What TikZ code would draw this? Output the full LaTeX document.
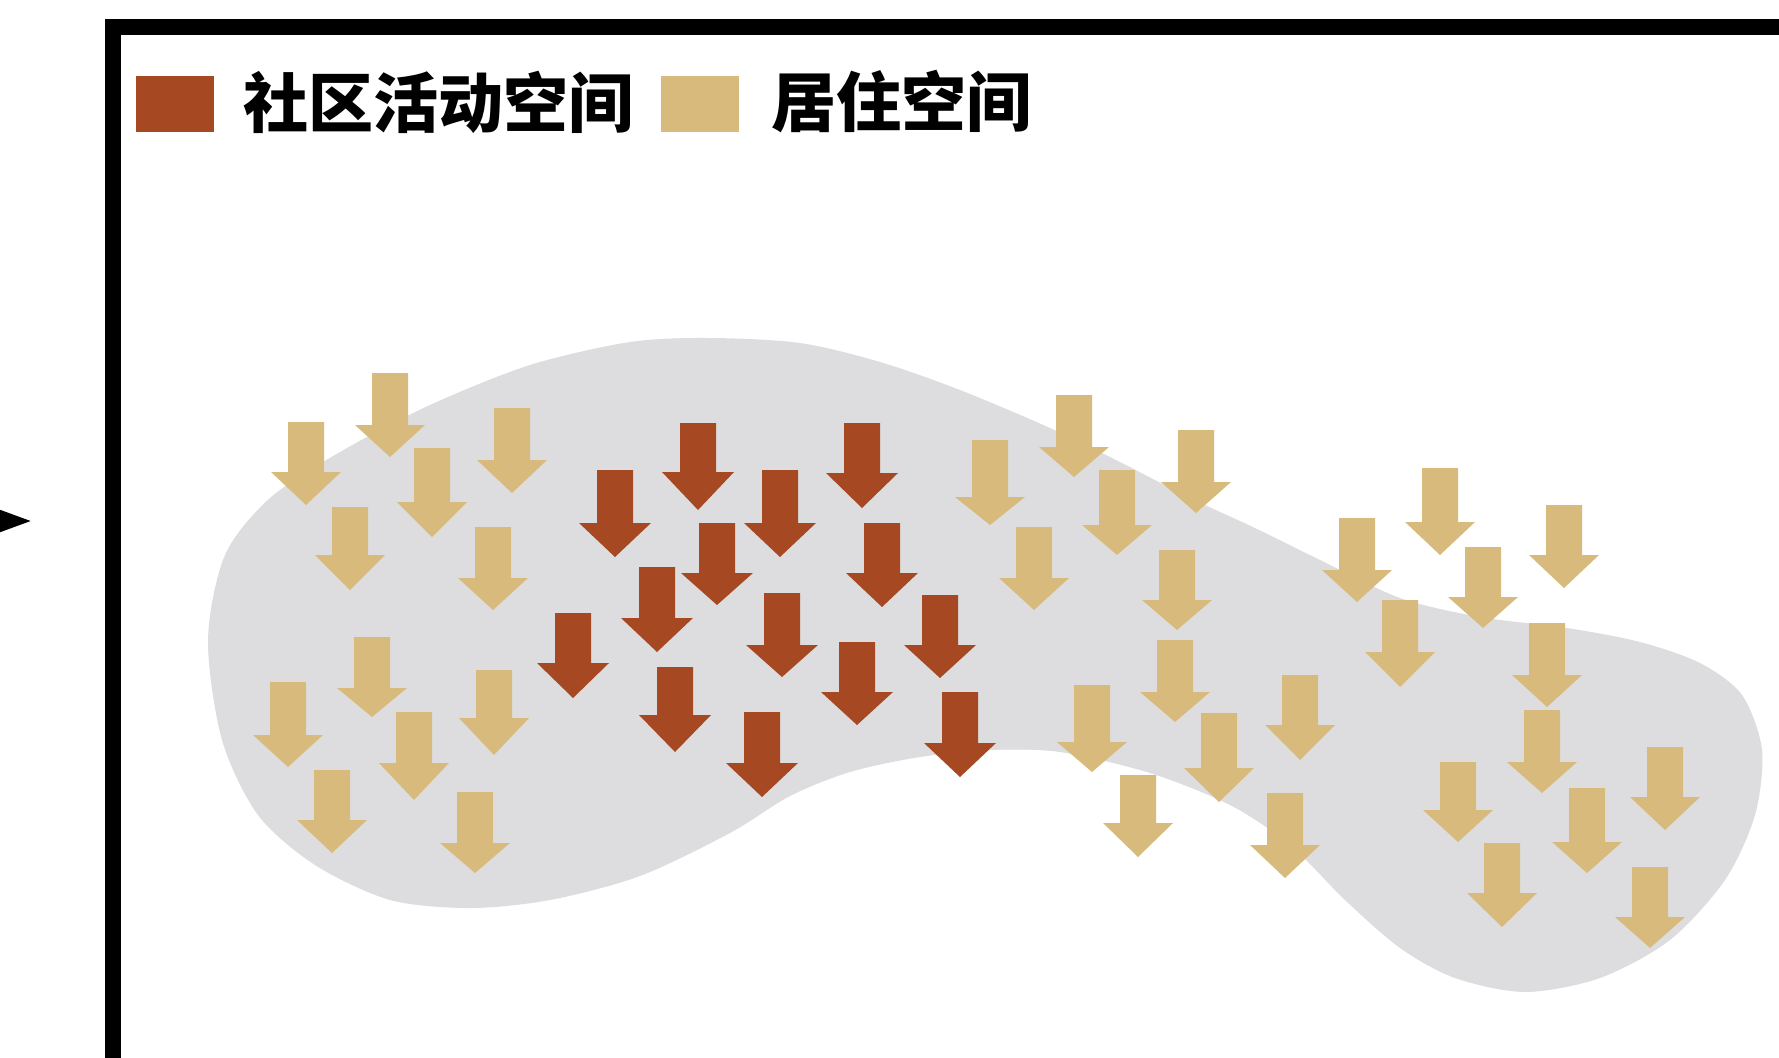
\documentclass[tikz,border=0pt]{standalone}
\usepackage{fontspec}
\newfontfamily\cjk{Noto Sans CJK SC}
\usetikzlibrary{arrows.meta}
\definecolor{brownc}{RGB}{166,72,34}
\definecolor{tanc}{RGB}{216,187,124}
\definecolor{blobc}{RGB}{221,221,223}
\tikzset{
  legtext/.style={anchor=west, inner sep=0pt, font=\cjk\bfseries\fontsize{18.5pt}{18.5pt}\selectfont, text=black},
  legbox/.style={inner sep=0pt, minimum width=0.77cm, minimum height=0.55cm}
}
\begin{document}
\begin{tikzpicture}[x=0.01cm, y=-0.01cm]
\useasboundingbox (0,0) rectangle (1779,1057);
\clip (0,0) rectangle (1779,1057);
\fill[white] (0,0) rectangle (1779,1057);
% frame
\draw[line width=0.15cm] (113,1120) |- (1850,27);
% incoming arrow tip at left
\coordinate (src) at (-60,521);
\coordinate (tgt) at (31,521);
\draw[line width=1.2pt, -{Triangle[length=0.32cm, width=0.22cm]}] (src) -- (tgt);
% legend
\node[legbox, fill=brownc] (lb1) at (175,104) {};
\node[legtext] (lt1) at (243,102) {社区活动空间};
\node[legbox, fill=tanc] (lb2) at (700,104) {};
\node[legtext] (lt2) at (771,102) {居住空间};
% blob
\fill[blobc] plot[smooth cycle, tension=0.5] coordinates {
(208,640) (225,555) (270,498) (340,452) (430,405) (530,365) (630,342) (710,338)
(800,343) (880,362) (960,390) (1050,428) (1120,462) (1190,498) (1255,528)
(1320,560) (1400,598) (1480,617) (1567,628) (1640,642) (1700,663) (1742,695)
(1762,750) (1755,815) (1725,880) (1670,940) (1600,978) (1525,992) (1455,978)
(1400,948) (1345,900) (1290,845) (1230,805) (1150,773) (1060,752) (990,750)
(920,757) (850,772) (790,796) (730,833) (640,876) (550,900) (470,908) (390,900)
(315,865) (258,815) (222,740)};
% residential arrows
\foreach \x/\t/\h/\p in {
306/422/472/505, 390/373/425/457, 432/448/502/537, 512/408/460/493,
350/507/555/590, 493/527/578/610, 372/637/688/717, 288/682/735/767,
494/670/718/755, 414/712/763/800, 332/770/820/853, 475/792/843/873,
990/440/497/525, 1074/395/447/477, 1117/470/525/555, 1196/430/482/513,
1034/527/578/610, 1177/550/600/630, 1175/640/692/722, 1092/685/742/772,
1219/713/768/802, 1300/675/725/760, 1138/775/823/857, 1285/793/845/878,
1357/518/570/602, 1440/468/522/555, 1564/505/555/588, 1483/547/597/628,
1400/600/652/687, 1547/623/675/707, 1542/710/762/793, 1665/747/797/830,
1458/762/810/842, 1587/788/842/873, 1502/843/893/927, 1650/867/917/948}
  \fill[tanc] (\x-18,\t) -- (\x+18,\t) -- (\x+18,\h) -- (\x+35,\h) -- (\x,\p) -- (\x-35,\h) -- (\x-18,\h) -- cycle;
% community activity arrows
\foreach \x/\t/\h/\p in {
698/423/472/510, 862/423/473/508, 615/470/523/557, 780/470/523/557,
717/523/573/605, 882/523/573/607, 657/567/618/652, 782/593/645/677,
573/613/663/698, 940/595/645/678, 675/667/715/752, 857/642/692/725,
762/712/763/797, 960/692/743/777}
  \fill[brownc] (\x-18,\t) -- (\x+18,\t) -- (\x+18,\h) -- (\x+36,\h) -- (\x,\p) -- (\x-36,\h) -- (\x-18,\h) -- cycle;
\end{tikzpicture}
\end{document}
